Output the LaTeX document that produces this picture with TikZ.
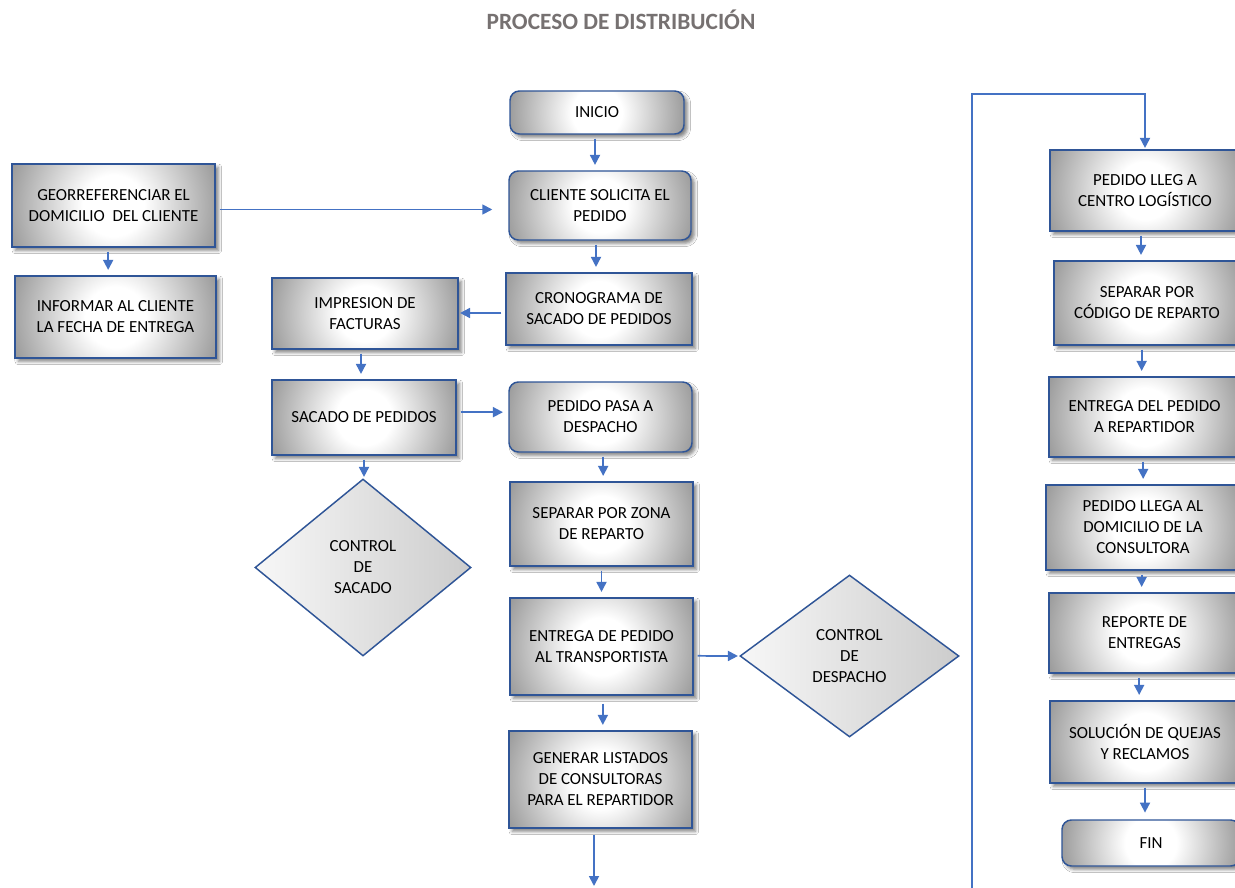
\documentclass[tikz,border=0pt]{standalone}
\usepackage{fontspec}
\setmainfont{Carlito}
\usetikzlibrary{shapes.geometric,arrows.meta,shadows.blur}
\definecolor{edgeblue}{HTML}{2F5597}
\definecolor{flowblue}{HTML}{4472C4}
\definecolor{titlegray}{HTML}{767171}
% white centre fading to grey towards the corners of each box
\pgfdeclareradialshading{boxglow}{\pgfpoint{0bp}{0bp}}{color(0bp)=(white); color(7bp)=(white); color(25bp)=(black!40); color(50bp)=(black!40)}
% circular glow whose radius reaches the box corners, clipped by the box
\makeatletter
\newcommand\glowfill{%
  \pgfpointdiff{\pgfpointanchor{path picture bounding box}{center}}{\pgfpointanchor{path picture bounding box}{north east}}%
  \pgfmathsetlengthmacro\glowr{veclen(\pgf@x,\pgf@y)}%
  \shade[shading=boxglow] (path picture bounding box.center) circle[radius=\glowr];}
\makeatother

\begin{document}
\begin{tikzpicture}[x=0.75pt,y=-0.75pt,
  base/.style={draw=edgeblue, line width=1.1pt, align=center, inner sep=2pt,
    font=\fontsize{12.7}{15.75}\selectfont},
  procbox/.style={base, rectangle, fill=white, path picture={\glowfill},
    blur shadow={shadow xshift=2.5pt, shadow yshift=-2.5pt, shadow blur radius=2.5pt, shadow opacity=50}},
  termbox/.style={procbox, rounded corners=7pt},
  decision/.style={base, diamond, left color=black!3, right color=black!20, inner sep=0pt},
  sz/.style 2 args={minimum width=#1*0.75pt, minimum height=#2*0.75pt},
  flow/.style={draw=flowblue, line width=1.3pt, -{Triangle[width=7.5pt,length=7.5pt]},
    shorten <=3pt, shorten >=4pt},
]
\fill[white] (0,0) rectangle (1235,888);
\clip (0,0) rectangle (1235,888);

\node[text=titlegray, font=\fontsize{17.5}{21}\selectfont\bfseries] (title) at (621,20) {PROCESO DE DISTRIBUCIÓN};

% main column and left branches
\node[termbox, sz={174}{43}] (inicio) at (597,112.5) {INICIO};
\node[termbox, sz={182}{69}] (cliente) at (600,205.5) {CLIENTE SOLICITA EL\\PEDIDO};
\node[procbox, sz={203}{83}] (geo) at (113.5,205.5) {GEORREFERENCIAR EL\\DOMICILIO \ DEL CLIENTE};
\node[procbox, sz={201}{82}] (informar) at (115.5,317) {INFORMAR AL CLIENTE\\LA FECHA DE ENTREGA};
\node[procbox, sz={186}{72}] (crono) at (599,309) {CRONOGRAMA DE\\SACADO DE PEDIDOS};
\node[procbox, sz={186}{71}] (impresion) at (365,313.5) {IMPRESION DE\\FACTURAS};
\node[procbox, sz={184}{75}] (sacado) at (364,417.5) {SACADO DE PEDIDOS};
\node[termbox, sz={183}{70}] (pasa) at (600.5,417) {PEDIDO PASA A\\DESPACHO};
\node[decision, sz={216}{177}] (csacado) at (363,567.5) {CONTROL\\DE\\SACADO};
\node[procbox, sz={183}{84}] (zona) at (601.5,524) {SEPARAR POR ZONA\\DE REPARTO};
\node[procbox, sz={183}{97}] (transp) at (601.5,646.5) {ENTREGA DE PEDIDO\\AL TRANSPORTISTA};
\node[decision, sz={219}{162}] (cdesp) at (849.5,656) {CONTROL\\DE\\DESPACHO};
\node[procbox, sz={183}{97}] (generar) at (600.5,779.5) {GENERAR LISTADOS\\DE CONSULTORAS\\PARA EL REPARTIDOR};

% right column
\node[procbox, sz={190}{81}] (llega) at (1145,190.5) {PEDIDO LLEG A\\CENTRO LOGÍSTICO};
\node[procbox, sz={186}{84}] (sepcod) at (1147,303) {SEPARAR POR\\CÓDIGO DE REPARTO};
\node[procbox, sz={191}{80}] (entrep) at (1144.5,417) {ENTREGA DEL PEDIDO\\A REPARTIDOR};
\node[procbox, sz={194}{85}] (domic) at (1143,527.5) {PEDIDO LLEGA AL\\DOMICILIO DE LA\\CONSULTORA};
\node[procbox, sz={191}{80}] (reporte) at (1144.5,633) {REPORTE DE\\ENTREGAS};
\node[procbox, sz={190}{82}] (quejas) at (1145,742) {SOLUCIÓN DE QUEJAS\\Y RECLAMOS};
\node[termbox, sz={178}{46}] (fin) at (1151,843) {FIN};

\coordinate (offpage) at (594,886);
\coordinate (loopfoot) at (972,890);
\coordinate (looptop) at (972,94);

% connectors
\draw[flow] ([xshift=-1.5pt]inicio.south) -- ([xshift=-1.5pt]inicio.south |- cliente.north);
\draw[flow, shorten >=12pt] ([yshift=-3pt]geo.east) -- ([yshift=-3pt]geo.east -| cliente.west);
\draw[flow] ([xshift=-4pt]geo.south) -- ([xshift=-4pt]geo.south |- informar.north);
\draw[flow] ([xshift=-3pt]cliente.south) -- ([xshift=-3pt]cliente.south |- crono.north);
\draw[flow, shorten >=1pt] ([yshift=-3pt]crono.west) -- ([yshift=-3pt]crono.west -| impresion.east);
\draw[flow] ([xshift=-3pt]impresion.south) -- ([xshift=-3pt]impresion.south |- sacado.north);
\draw[flow] ([yshift=4pt]sacado.east) -- ([yshift=4pt]sacado.east -| pasa.west);
\draw[flow, shorten >=1pt] (sacado.south) -- (sacado.south |- csacado.north);
\draw[flow] ([xshift=2pt]pasa.south) -- ([xshift=2pt]pasa.south |- zona.north);
\draw[flow] (zona.south) -- (zona.south |- transp.north);
\draw[flow, shorten >=1pt] ([yshift=-7pt]transp.east) -- (cdesp.west);
\draw[flow, shorten <=6pt] ([xshift=1pt]transp.south) -- ([xshift=1pt]transp.south |- generar.north);
\draw[flow, shorten <=5pt, shorten >=0pt] (generar.south -| offpage) -- (offpage);
\draw[flow, shorten <=0pt, shorten >=1pt] (loopfoot) -- (looptop) -- (looptop -| llega.north) -- (llega.north);
\draw[flow] ([xshift=-3pt]llega.south) -- ([xshift=-3pt]llega.south |- sepcod.north);
\draw[flow] ([xshift=-4pt]sepcod.south) -- ([xshift=-4pt]sepcod.south |- entrep.north);
\draw[flow] ([xshift=-1pt]entrep.south) -- ([xshift=-1pt]entrep.south |- domic.north);
\draw[flow] ([xshift=-1pt]domic.south) -- ([xshift=-1pt]domic.south |- reporte.north);
\draw[flow] ([xshift=-4pt]reporte.south) -- ([xshift=-4pt]reporte.south |- quejas.north);
\draw[flow, shorten >=5pt] (quejas.south) -- (quejas.south |- fin.north);
\end{tikzpicture}
\end{document}
